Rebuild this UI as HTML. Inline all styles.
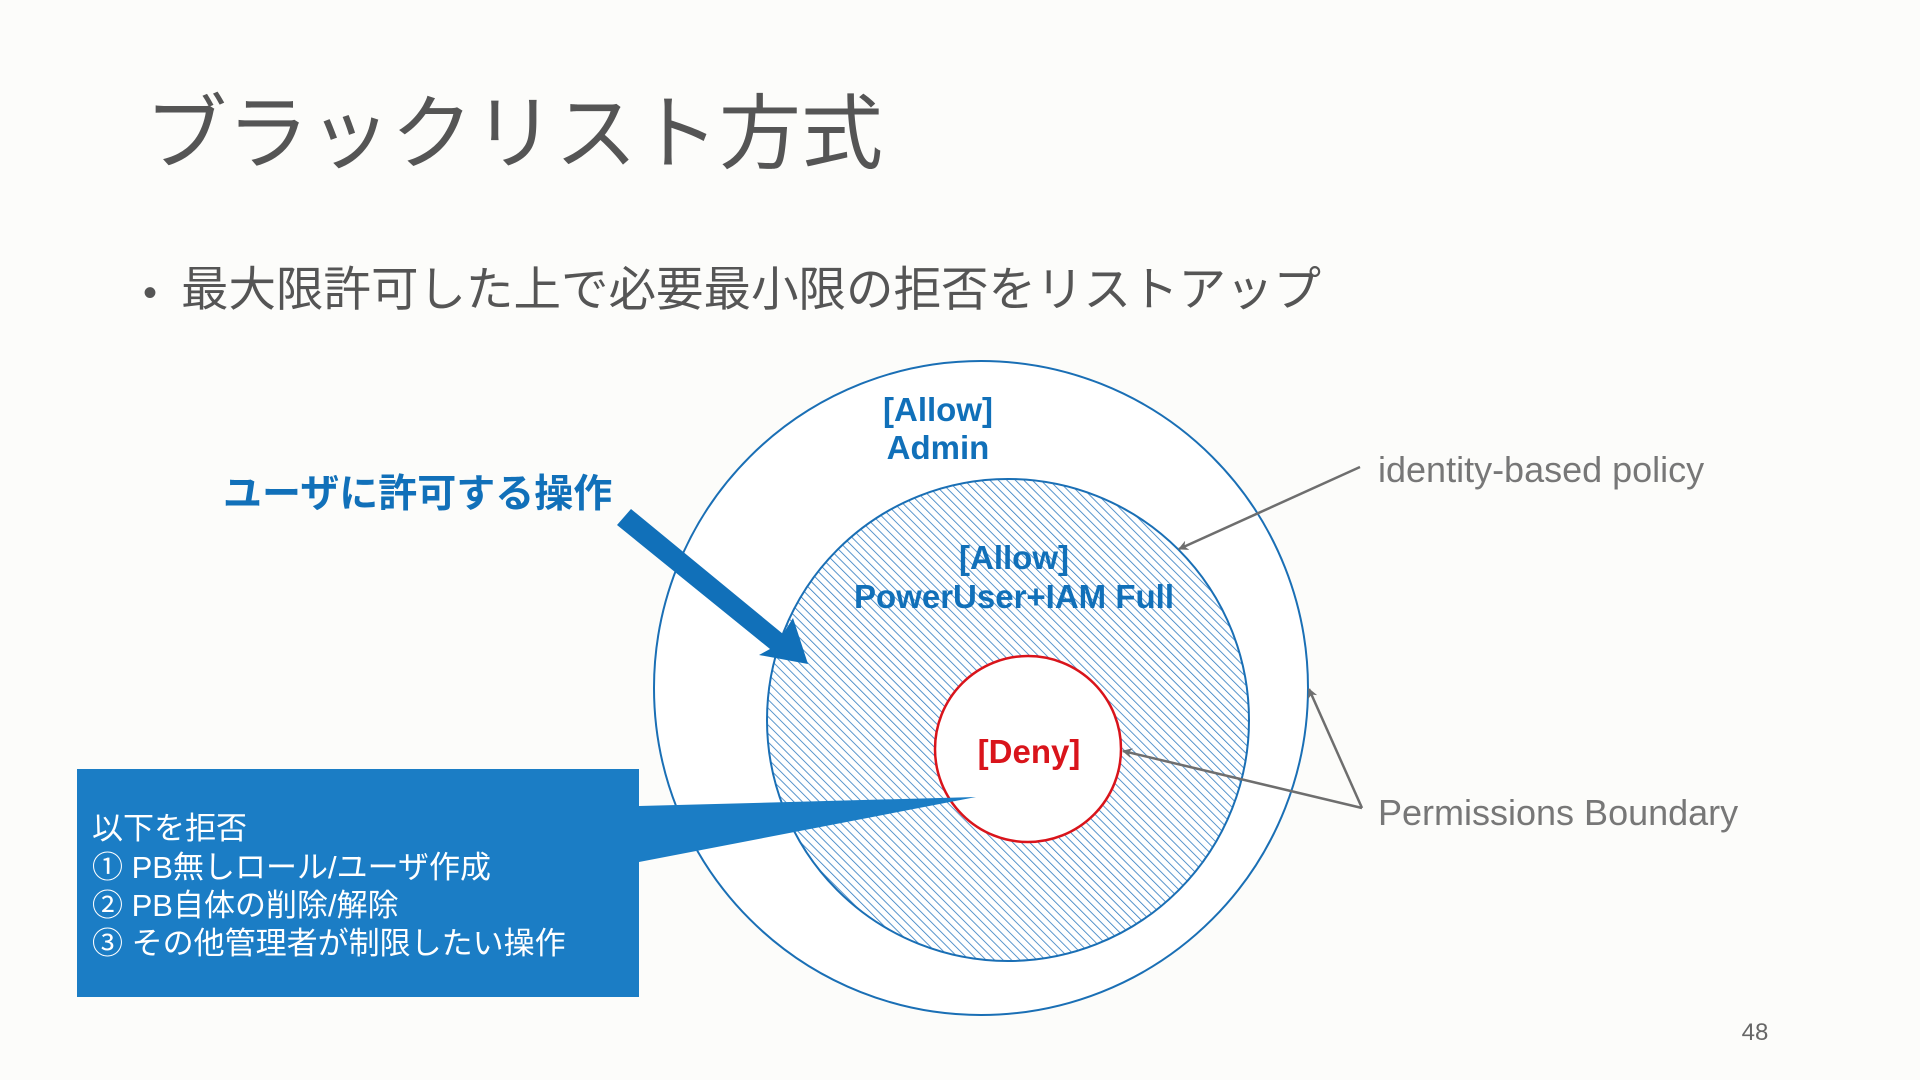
<!DOCTYPE html>
<html><head><meta charset="utf-8"><style>
html,body{margin:0;padding:0;background:#fcfcfa;}
svg{display:block;}
text{font-family:"Liberation Sans","Noto Sans CJK JP",sans-serif;}
</style></head><body>
<svg width="1920" height="1080" viewBox="0 0 1920 1080" xmlns="http://www.w3.org/2000/svg">
<defs>
<pattern id="h" width="6" height="6" patternUnits="userSpaceOnUse" patternTransform="rotate(-45)">
<rect width="6" height="6" fill="#ffffff"/>
<line x1="0" y1="0" x2="0" y2="6" stroke="#2f7bbf" stroke-width="1.6"/>
</pattern>
<marker id="ag" markerWidth="10" markerHeight="10" refX="9" refY="5" orient="auto" markerUnits="userSpaceOnUse"><path d="M0,0 L10,5 L0,10 L3,5 Z" fill="#6e6e6e"/></marker>
</defs>
<rect width="1920" height="1080" fill="#fcfcfa"/>
<text x="145" y="162" font-size="82" fill="#555555">ブラックリスト方式</text>
<text x="143" y="306" font-size="40" fill="#555555">•</text>
<text x="181" y="306" font-size="47.5" fill="#555555">最大限許可した上で必要最小限の拒否をリストアップ</text>

<circle cx="981" cy="688" r="327" fill="#ffffff" stroke="#1a6fb5" stroke-width="2"/>
<circle cx="1008" cy="720" r="241" fill="url(#h)" stroke="#1a6fb5" stroke-width="2"/>
<circle cx="1028" cy="749" r="93" fill="#ffffff" stroke="#d9141b" stroke-width="2.5"/>

<g font-weight="bold" fill="#1170b9" font-size="33" text-anchor="middle">
<text x="938" y="421">[Allow]</text>
<text x="938" y="459">Admin</text>
<text x="1014" y="569">[Allow]</text>
<text x="1014" y="608">PowerUser+IAM Full</text>
</g>
<text x="1029" y="763" font-size="33" font-weight="bold" fill="#d9141b" text-anchor="middle">[Deny]</text>

<polygon points="617,525 631,509 783,634 793,618 808,664 759,655 770,649" fill="#1170b9"/>
<text x="223" y="507" font-size="39" font-weight="bold" fill="#1170b9">ユーザに許可する操作</text>

<polygon points="639,806 976,797 639,862" fill="#1b7dc5"/>
<rect x="77" y="769" width="562" height="228" fill="#1b7dc5"/>
<g fill="#ffffff" font-size="31">
<text x="92" y="839">以下を拒否</text>
<text x="92" y="878">①  PB無しロール/ユーザ作成</text>
<text x="92" y="916">②  PB自体の削除/解除</text>
<text x="92" y="954">③  その他管理者が制限したい操作</text>
</g>

<g stroke="#6e6e6e" stroke-width="2.5" fill="none">
<line x1="1360" y1="467" x2="1179" y2="549" marker-end="url(#ag)"/>
<line x1="1362" y1="808" x2="1309" y2="689" marker-end="url(#ag)"/>
<line x1="1362" y1="808" x2="1123" y2="751" marker-end="url(#ag)"/>
</g>
<text x="1378" y="482" font-size="36" fill="#777777">identity-based policy</text>
<text x="1378" y="825" font-size="36" fill="#777777">Permissions Boundary</text>
<text x="1755" y="1040" font-size="24" fill="#666666" text-anchor="middle">48</text>
</svg>
</body></html>
